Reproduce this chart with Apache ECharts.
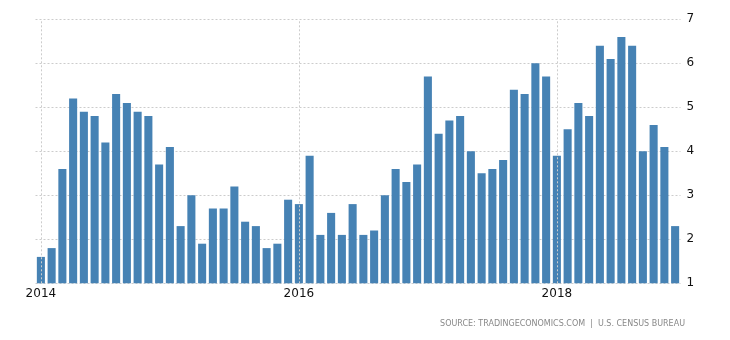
<!DOCTYPE html>
<html><head><meta charset="utf-8">
<script src="https://cdn.jsdelivr.net/npm/echarts@6/dist/echarts.min.js"></script>
<style>html,body{margin:0;padding:0;background:#fff}#c{width:730px;height:340px}</style>
</head><body><div id="c"></div>
<script>
const years = ['2014','2015','2016','2017','2018'];
const months = [];
years.forEach(y => { for (let m = 1; m <= 12; m++) months.push(y + '-' + (m < 10 ? '0' + m : m)); });
const values = [
  1.6, 1.8, 3.6, 5.2, 4.9, 4.8, 4.2, 5.3, 5.1, 4.9, 4.8, 3.7,
  4.1, 2.3, 3.0, 1.9, 2.7, 2.7, 3.2, 2.4, 2.3, 1.8, 1.9, 2.9,
  2.8, 3.9, 2.1, 2.6, 2.1, 2.8, 2.1, 2.2, 3.0, 3.6, 3.3, 3.7,
  5.7, 4.4, 4.7, 4.8, 4.0, 3.5, 3.6, 3.8, 5.4, 5.3, 6.0, 5.7,
  3.9, 4.5, 5.1, 4.8, 6.4, 6.1, 6.6, 6.4, 4.0, 4.6, 4.1, 2.3
];
const labelYears = ['2014-01', '2016-01', '2018-01'];
const yTicks = [1, 2, 3, 4, 5, 6, 7];
const sourceText = 'SOURCE: TRADINGECONOMICS.COM  |  U.S. CENSUS BUREAU';

const chart = echarts.init(document.getElementById('c'));
chart.setOption({
  animation: false,
  grid: { left: 35.5, right: 49.5, top: 19.3, bottom: 56.7 },
  xAxis: {
    type: 'category',
    data: months,
    axisLine: { show: false },
    axisTick: { show: false },
    axisLabel: {
      interval: 0,
      margin: 5,
      color: '#111',
      fontSize: 12,
      fontFamily: 'DejaVu Sans',
      formatter: v => labelYears.includes(v) ? v.slice(0, 4) : ''
    },
    splitLine: { show: false }
  },
  yAxis: {
    type: 'value',
    position: 'right',
    min: yTicks[0],
    max: yTicks[yTicks.length - 1],
    interval: 1,
    axisLine: { show: false },
    axisTick: { show: false },
    axisLabel: { margin: 6, color: '#111', fontSize: 12, fontFamily: 'DejaVu Sans' },
    splitLine: { lineStyle: { color: '#cccccc', type: [2, 2], width: 1 } }
  },
  series: [{
    type: 'bar',
    data: values,
    barCategoryGap: '25%',
    itemStyle: { color: '#4682B4' },
    markLine: {
      silent: true,
      symbol: 'none',
      label: { show: false },
      lineStyle: { color: '#cccccc', type: [2, 2], width: 1 },
      data: labelYears.map(x => ({ xAxis: x }))
    }
  }],
  graphic: [{
    type: 'text',
    right: 45,
    top: 320,
    style: { text: sourceText, fill: '#888', font: '8px "DejaVu Sans"' }
  }]
});
</script></body></html>
